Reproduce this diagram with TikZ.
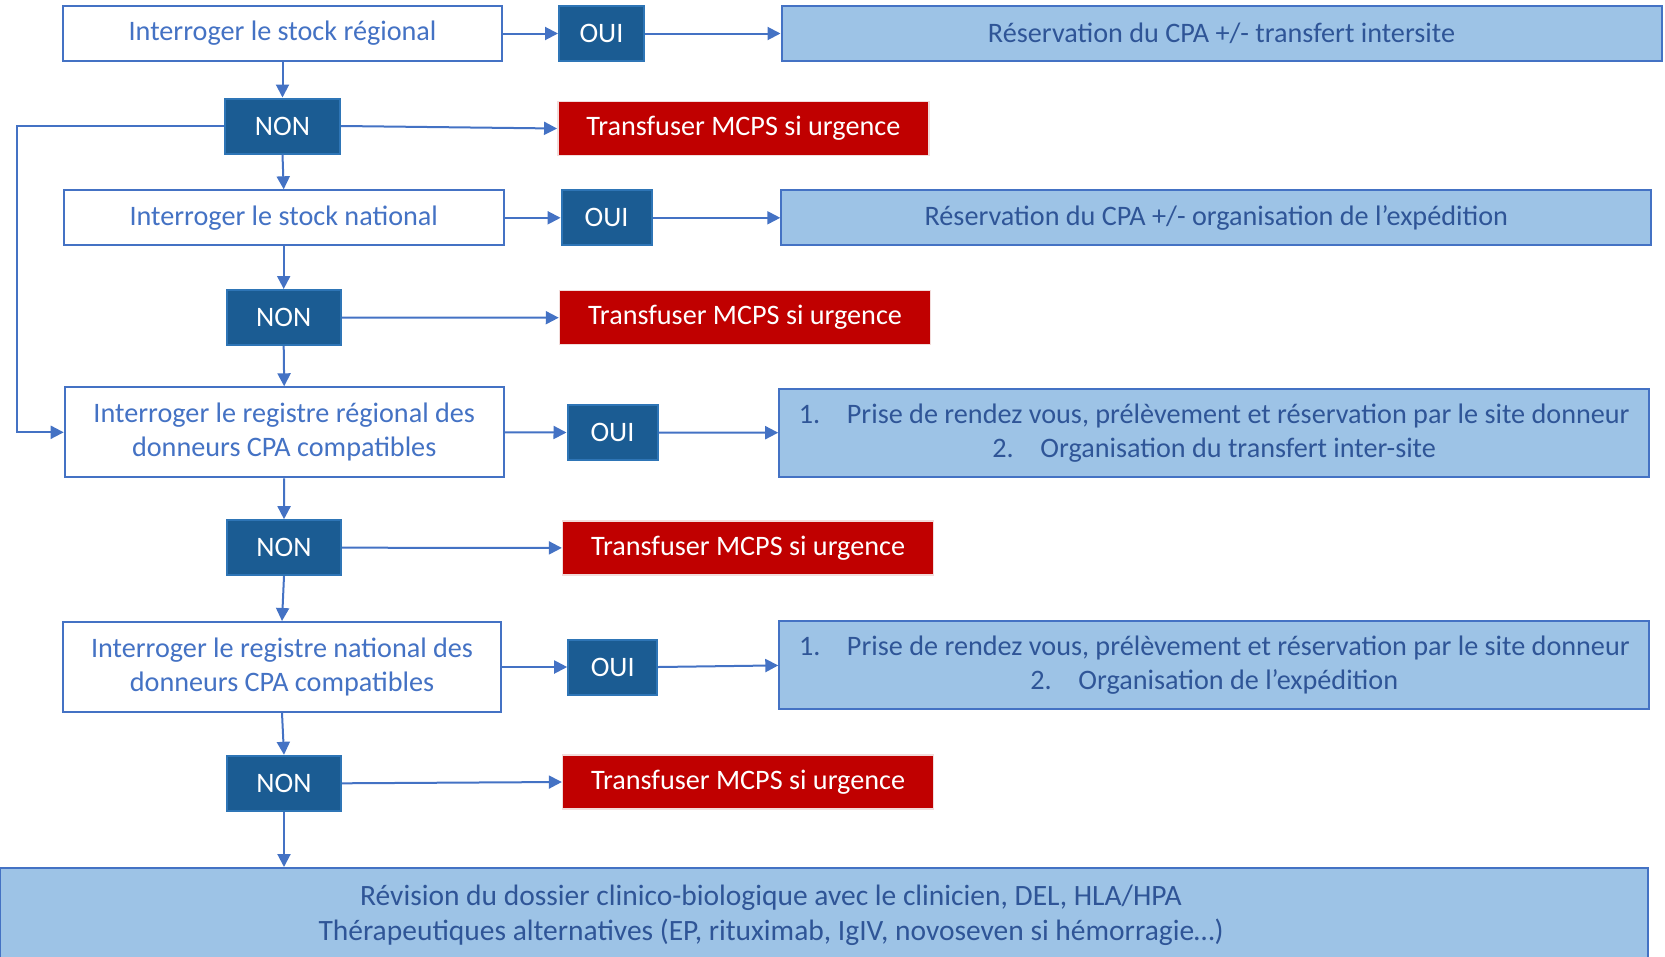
\documentclass[tikz,border=0pt]{standalone}
\usepackage{fontspec}
\setmainfont{Carlito}
\usetikzlibrary{arrows.meta}
\definecolor{lineblue}{HTML}{4472C4}
\definecolor{darkfill}{HTML}{1B5C93}
\definecolor{darkedge}{HTML}{2E75B6}
\definecolor{lightfill}{HTML}{9DC3E6}
\definecolor{lighttext}{HTML}{2F5597}
\definecolor{redfill}{HTML}{C00000}
\definecolor{rededge}{HTML}{F2DCDB}
\begin{document}
\begin{tikzpicture}[x=1bp,y=-1bp,
  base/.style={rectangle,inner sep=0pt,align=center,font=\fontsize{28.3}{34}\selectfont},
  qbox/.style={base,draw=lineblue,line width=2bp,fill=white,text=lineblue},
  yesno/.style={base,draw=darkedge,line width=2bp,fill=darkfill,text=white,minimum width=#1,minimum height=55bp},
  resbox/.style={base,draw=lineblue,line width=2bp,fill=lightfill,text=lighttext},
  redbox/.style={base,draw=rededge,line width=1.5bp,fill=redfill,text=white,minimum width=371bp,minimum height=54bp},
  arr/.style={draw=lineblue,line width=2bp,-{Triangle[length=13bp,width=13bp]}}
]
\useasboundingbox (0,0) rectangle (1665,956);
\clip (0,0) rectangle (1665,956);

% row 1
\node[qbox,minimum width=438bp,minimum height=55bp] (b1) at (282.5,33.5) {Interroger le stock régional};
\node[yesno=85bp] (oui1) at (601.5,33.5) {OUI};
\node[resbox,minimum width=880bp,minimum height=55bp] (res1) at (1221.5,33.5) {Réservation du CPA +/- transfert intersite};
\node[yesno=115bp] (non1) at (282.5,126) {NON};
\node[redbox] (red1) at (743.3,128.5) {Transfuser MCPS si urgence};

% row 2
\node[qbox,minimum width=440bp,minimum height=55bp] (b2) at (283.7,217.8) {Interroger le stock national};
\node[yesno=90bp] (oui2) at (606.6,217.8) {OUI};
\node[resbox,minimum width=870bp,minimum height=55bp] (res2) at (1216.3,217.8) {Réservation du CPA +/- organisation de l’expédition};
\node[yesno=114bp] (non2) at (283.7,317.5) {NON};
\node[redbox] (red2) at (745,317.7) {Transfuser MCPS si urgence};

% row 3
\node[qbox,minimum width=439bp,minimum height=90bp] (b3) at (284.2,432.3) {Interroger le registre régional des\\donneurs CPA compatibles};
\node[yesno=90bp] (oui3) at (612.5,432.5) {OUI};
\node[resbox,minimum width=870bp,minimum height=88bp] (res3) at (1214.2,432.7) {\makebox[48bp][l]{1.}Prise de rendez vous, prélèvement et réservation par le site donneur\\\makebox[48bp][l]{2.}Organisation du transfert inter-site};
\node[yesno=114bp] (non3) at (284,547.7) {NON};
\node[redbox] (red3) at (748.1,547.9) {Transfuser MCPS si urgence};

% row 4
\node[qbox,minimum width=438.5bp,minimum height=90bp] (b4) at (282,667) {Interroger le registre national des\\donneurs CPA compatibles};
\node[yesno=89bp] (oui4) at (612.7,667) {OUI};
\node[resbox,minimum width=870bp,minimum height=88bp] (res4) at (1214.3,665.4) {\makebox[48bp][l]{1.}Prise de rendez vous, prélèvement et réservation par le site donneur\\\makebox[48bp][l]{2.}Organisation de l’expédition};
\node[yesno=114bp] (non4) at (284,783.3) {NON};
\node[redbox] (red4) at (748.1,782) {Transfuser MCPS si urgence};

% bottom
\node[resbox,minimum width=1648bp,minimum height=91bp] (bot) at (824.3,913.5) {};
\node[base,text=lighttext,font=\fontsize{29.6}{35}\selectfont] (bottxt) at (771,915.5) {Révision du dossier clinico-biologique avec le clinicien, DEL, HLA/HPA\\Thérapeutiques alternatives (EP, rituximab, IgIV, novoseven si hémorragie…)};

% connectors
\draw[arr] (b1.east) -- (oui1.west);
\draw[arr] (oui1.east) -- (res1.west);
\draw[arr] (b1.south) -- (non1.north);
\draw[arr] (non1.east) -- (red1.west);
\draw[arr] (non1.south) -- (b2.north);
\draw[arr] (b2.east) -- (oui2.west);
\draw[arr] (oui2.east) -- (res2.west);
\draw[arr] (b2.south) -- (non2.north);
\draw[arr] (non2.east) -- (red2.west);
\draw[arr] (non2.south) -- (b3.north);
\draw[arr] (b3.east) -- (oui3.west);
\draw[arr] (oui3.east) -- (res3.west);
\draw[arr] (b3.south) -- (non3.north);
\draw[arr] (non3.east) -- (red3.west);
\draw[arr] (non3.south) -- (b4.north);
\draw[arr] (b4.east) -- (oui4.west);
\draw[arr] (oui4.east) -- (res4.west);
\draw[arr] (b4.south) -- (non4.north);
\draw[arr] (non4.east) -- (red4.west);
\draw[arr] (non4.south) -- (non4.south |- bot.north);
\coordinate (lp) at (17,126);
\draw[arr] (non1.west) -- (lp) |- (b3.west);
\end{tikzpicture}
\end{document}
